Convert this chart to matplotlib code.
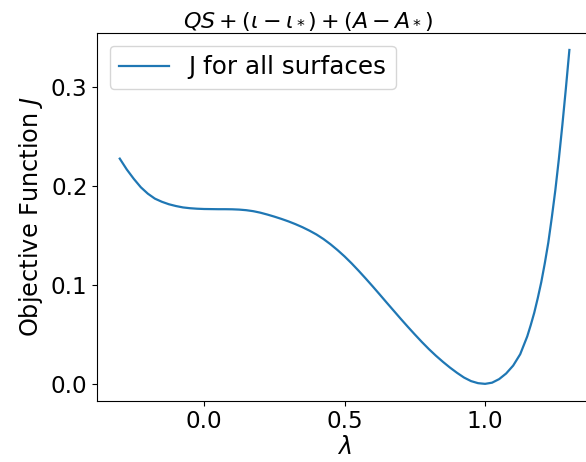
import numpy as np
import matplotlib
matplotlib.use("Agg")
import matplotlib.pyplot as plt

# values
lam = [-0.300, -0.275, -0.250, -0.225, -0.200, -0.175, -0.150, -0.125, -0.100, -0.075,
       -0.050, -0.025, 0.000, 0.025, 0.050, 0.075, 0.100, 0.125, 0.150, 0.175,
       0.200, 0.225, 0.250, 0.275, 0.300, 0.325, 0.350, 0.375, 0.400, 0.425,
       0.450, 0.475, 0.500, 0.525, 0.550, 0.575, 0.600, 0.625, 0.650, 0.675,
       0.700, 0.725, 0.750, 0.775, 0.800, 0.825, 0.850, 0.875, 0.900, 0.925,
       0.950, 0.975, 1.000, 1.025, 1.050, 1.075, 1.100, 1.125, 1.150, 1.1625,
       1.175, 1.1875, 1.200, 1.2125, 1.225, 1.2375, 1.250, 1.2625, 1.275, 1.2875,
       1.300]
J = [0.2280, 0.2170, 0.2075, 0.1990, 0.1925, 0.1875, 0.1843, 0.1818, 0.1800, 0.1786,
     0.1778, 0.1773, 0.1770, 0.1769, 0.1768, 0.1768, 0.1767, 0.1764, 0.1758, 0.1748,
     0.1733, 0.1714, 0.1693, 0.1670, 0.1645, 0.1617, 0.1586, 0.1551, 0.1512, 0.1466,
     0.1413, 0.1354, 0.1290, 0.1220, 0.1145, 0.1067, 0.0987, 0.0905, 0.0822, 0.0740,
     0.0658, 0.0578, 0.0500, 0.0424, 0.0352, 0.0285, 0.0223, 0.0165, 0.0112, 0.0064,
     0.0028, 0.0007, 0.0000, 0.0012, 0.0048, 0.0105, 0.0185, 0.0300, 0.0480, 0.0595,
     0.0720, 0.0868, 0.1030, 0.1220, 0.1430, 0.1685, 0.1960, 0.2275, 0.2620, 0.2990,
     0.3380]

fig = plt.figure(figsize=(5.86, 4.62), dpi=100)
ax = fig.add_axes([0.166, 0.133, 0.844, 0.795])
ax.plot(lam, J, color="tab:blue", lw=1.6, label="J for all surfaces")
ax.set_xticks([0.0, 0.5, 1.0])
ax.set_yticks([0.0, 0.1, 0.2, 0.3])
ax.tick_params(labelsize=16.6)
ax.set_xlabel(r"$\lambda$", fontsize=17, labelpad=1)
ax.set_ylabel(r"Objective Function $J$", fontsize=17.3, labelpad=4)
ax.set_title(r"$QS + (\iota - \iota_*) + (A - A_*)$", fontsize=16, x=0.426, pad=4)
ax.legend(loc="upper left", fontsize=17.7)

fig.savefig("out.png", dpi=100)
